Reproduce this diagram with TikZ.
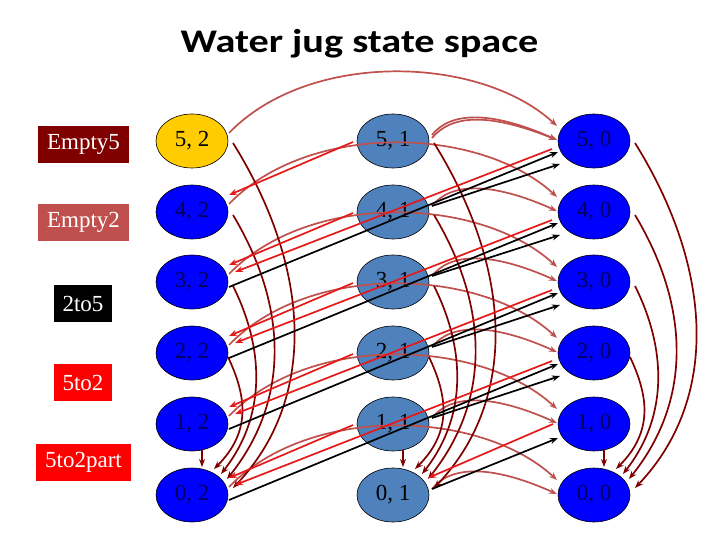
\documentclass[tikz,border=0pt]{standalone}
\usepackage{fontspec}
\usepackage{graphicx}
\setmainfont{Liberation Serif}
\newfontfamily\titlefont{Carlito}
\usetikzlibrary{shapes.geometric,arrows.meta,calc}
\definecolor{jblue}{RGB}{0,0,255}
\definecolor{jmid}{RGB}{79,129,189}
\definecolor{jyel}{RGB}{255,204,0}
\definecolor{jtext}{RGB}{0,0,90}
\definecolor{cfive}{RGB}{128,0,0}
\definecolor{ctwo}{RGB}{192,80,77}
\definecolor{cred}{RGB}{230,25,25}
\begin{document}
\begin{tikzpicture}[x=1pt,y=-1pt,
  st/.style={ellipse, draw=black, line width=0.6pt, minimum width=72pt, minimum height=54pt, inner sep=0pt, font=\fontsize{23}{26}\selectfont},
  bl/.style={st, fill=jblue, text=jtext},
  md/.style={st, fill=jmid, text=black},
  yl/.style={st, fill=jyel, text=black},
  lg/.style={rectangle, minimum height=37pt, inner xsep=9pt, inner ysep=0pt, text=white, font=\fontsize{23}{26}\selectfont},
  tip/.style={-{Stealth[length=8pt,width=6pt]}},
  e5/.style={draw=cfive, line width=1.7pt, tip},
  e2/.style={draw=ctwo, line width=1.7pt, tip},
  kk/.style={draw=black, line width=1.7pt, tip},
  rr/.style={draw=cred, line width=1.7pt, tip}]
\useasboundingbox (0,0) rectangle (720,540);
\fill[white] (0,0) rectangle (720,540);
% title
\node[anchor=base, font=\titlefont\bfseries\fontsize{33}{38}\selectfont] (title) at (359.5,53) {\scalebox{1.22}[1]{Water jug state space}};
% legend
\node[lg, fill=cfive] (lE5) at (83.5,144.5) {Empty5};
\node[lg, fill=ctwo] (lE2) at (83.5,222.5) {Empty2};
\node[lg, fill=black] (l25) at (83,303.5) {2to5};
\node[lg, fill=red] (l52) at (83,382.5) {5to2};
\node[lg, fill=red] (l52p) at (83.5,462.5) {5to2part};
% states
\node[yl] (n52) at (192,141) {5, 2};
\foreach \a/\y in {4/212,3/282,2/353,1/424,0/495} {\node[bl] (n\a2) at (192,\y) {\a, 2};}
\foreach \a/\y in {5/141,4/212,3/282,2/353,1/424,0/495} {\node[md] (n\a1) at (393,\y) {\a, 1};}
\foreach \a/\y in {5/141,4/212,3/282,2/353,1/424,0/495} {\node[bl] (n\a0) at (594,\y) {\a, 0};}
% Empty2
\foreach \a in {0,...,5} {
  \draw[e2] ($(n\a2)+(37,-8)$) .. controls +(80,-83) and +(-77,-71) .. ($(n\a0)+(-37,-15)$);
  \draw[e2] ($(n\a1)+(39,-6)$) .. controls +(18,-23) and +(-67,-30) .. ($(n\a0)+(-37,-1)$);
}
\draw[e2] ($(n51)+(39,-3)$) .. controls +(20,-24) and +(-67,-27) .. ($(n50)+(-37,-1)$);
% Empty5
\foreach \c in {2,1,0} {
  \draw[e5] ($(n5\c)+(41,2)$) .. controls +(79,127) and +(84,-88) .. ($(n0\c)+(41,-7)$);
  \draw[e5] ($(n4\c)+(41,3)$) .. controls +(54,90) and +(64,-80) .. ($(n0\c)+(35,-16)$);
  \draw[e5] ($(n3\c)+(41,4)$) .. controls +(30,60) and +(47,-60) .. ($(n0\c)+(29,-21)$);
  \draw[e5] ($(n2\c)+(36,4)$) .. controls +(18,38) and +(38,-38) .. ($(n0\c)+(22,-26)$);
  \draw[e5] ($(n1\c)+(10,26)$) -- ($(n0\c)+(10,-28)$);
}
% 2to5
\foreach \a/\b in {3/5,2/4,1/3,0/2} {\draw[kk] ($(n\a2)+(37,5)$) -- ($(n\b0)+(-36,11)$);}
\foreach \a/\b in {4/5,3/4,2/3,1/2} {\draw[kk] ($(n\a1)+(39,-6)$) -- ($(n\b0)+(-34,23)$);}
\draw[kk] ($(n01)+(39,-6)$) -- ($(n10)+(-36,14)$);
% 5to2
\foreach \a/\b in {5/3,4/2,3/1,2/0} {\draw[rr] ($(n\a0)+(-42,8)$) -- ($(n\b2)+(43,-10)$);}
\foreach \a/\b in {5/4,4/3,3/2,2/1,1/0} {\draw[rr] ($(n\a1)+(-40,1)$) -- ($(n\b2)+(37,-17)$);}
\draw[rr] ($(n10)+(-41,0)$) -- ($(n01)+(35,-17)$);
\end{tikzpicture}
\end{document}
